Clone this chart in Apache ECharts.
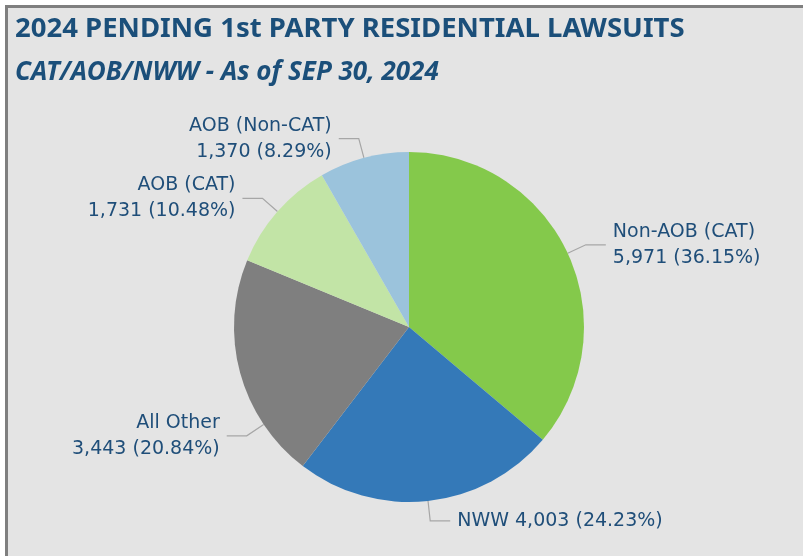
<!DOCTYPE html>
<html>
<head>
<meta charset="utf-8">
<script src="https://cdn.jsdelivr.net/npm/echarts@6/dist/echarts.min.js"></script>
<style>
  html, body { margin: 0; padding: 0; background: #ffffff; }
  #frame { position: absolute; left: 5px; top: 5px; width: 820px; height: 580px;
           border: 3px solid #7f7f7f; background: #e4e4e4; }
  #chart { position: absolute; left: 0; top: 0; width: 803px; height: 556px; }
</style>
</head>
<body>
<div id="frame"></div>
<div id="chart"></div>
<script>
const titleText = '2024 PENDING 1st PARTY RESIDENTIAL LAWSUITS';
const subtitleText = 'CAT/AOB/NWW - As of SEP 30, 2024';
const categories = ['Non-AOB (CAT)', 'NWW', 'All Other', 'AOB (CAT)', 'AOB (Non-CAT)'];
const values = [5971, 4003, 3443, 1731, 1370];
const labelSeparators = ['\n', ' ', '\n', '\n', '\n'];
const colors = ['#84c94b', '#3479b8', '#7f7f7f', '#c2e4a6', '#9bc3dc'];

const total = values.reduce((a, b) => a + b, 0);
const pieCenter = [409, 327];
const pieRadius = 175;
const lineLen = 20;
const lineLen2 = 20;
const chart = echarts.init(document.getElementById('chart'));
const textColor = '#1f4e79';
const titleColor = '#1b4f7a';

// Shifted label (like the original): its leader line points toward the pie centre.
const shiftedLabel = { index: 2, dx: 26, dy: 58 };

chart.setOption({
  backgroundColor: 'transparent',
  title: [{
    text: titleText,
    left: 15,
    top: 15,
    padding: 0,
    textStyle: { fontFamily: 'Noto Sans', fontWeight: 'bold', fontSize: 27.5, color: titleColor }
  }, {
    text: subtitleText,
    left: 15,
    top: 60,
    padding: 0,
    textStyle: { fontFamily: 'Noto Sans', fontWeight: 'bold', fontStyle: 'italic', fontSize: 26, color: titleColor }
  }],
  series: [{
    type: 'pie',
    center: pieCenter,
    radius: pieRadius,
    startAngle: 90,
    clockwise: true,
    avoidLabelOverlap: false,
    data: categories.map((c, i) => ({ name: c, value: values[i], itemStyle: { color: colors[i] } })),
    label: {
      show: true,
      position: 'outside',
      fontFamily: 'DejaVu Sans',
      fontSize: 19,
      lineHeight: 26,
      color: textColor,
      distanceToLabelLine: 7,
      formatter: function (p) {
        return p.name + labelSeparators[p.dataIndex] + p.value.toLocaleString('en-US') +
          ' (' + (p.value / total * 100).toFixed(2) + '%)';
      }
    },
    labelLine: {
      show: true,
      length: lineLen,
      length2: lineLen2,
      lineStyle: { color: '#a6a6a6', width: 1.2 }
    },
    labelLayout: function (params) {
      if (params.dataIndex !== shiftedLabel.index || !params.labelLinePoints) return;
      const pts = params.labelLinePoints;
      const side = pts[2][0] < pts[1][0] ? -1 : 1;
      const p2 = [pts[2][0] + shiftedLabel.dx, pts[2][1] + shiftedLabel.dy];
      const p1 = [p2[0] - side * lineLen2, p2[1]];
      const vx = pieCenter[0] - p1[0], vy = pieCenter[1] - p1[1];
      const d = Math.sqrt(vx * vx + vy * vy);
      const t = (d - pieRadius) / d;
      const p0 = [p1[0] + vx * t, p1[1] + vy * t];
      return { dx: shiftedLabel.dx, dy: shiftedLabel.dy, labelLinePoints: [p0, p1, p2] };
    },
    emphasis: { disabled: true }
  }]
});
</script>
</body>
</html>
